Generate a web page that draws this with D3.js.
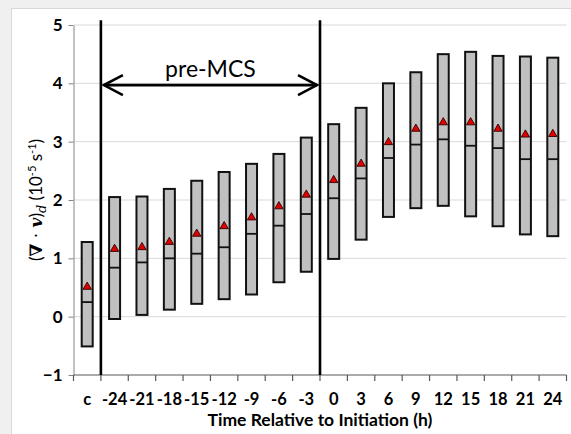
<!DOCTYPE html>
<html>
<head>
<meta charset="utf-8">
<script src="https://cdn.jsdelivr.net/npm/d3@7"></script>
<style>
  body { margin: 0; background: #fff; }
  svg { display: block; font-family: Lato, "Open Sans", sans-serif; }
</style>
</head>
<body>
<div id="chart"></div>
<script>
// Categories on the x axis (hours relative to initiation, "c" = climatology)
const categories = ["c", "-24", "-21", "-18", "-15", "-12", "-9", "-6", "-3",
    "0", "3", "6", "9", "12", "15", "18", "21", "24"];

// Box bottoms, tops, medians and means (10^-5 s^-1)
const lower = [-0.51, -0.04, 0.03, 0.12, 0.22, 0.30, 0.38, 0.59, 0.77,
    0.99, 1.32, 1.71, 1.86, 1.90, 1.72, 1.55, 1.41, 1.38];
const upper = [1.28, 2.05, 2.06, 2.19, 2.33, 2.48, 2.62, 2.79, 3.07,
    3.30, 3.58, 4.00, 4.19, 4.50, 4.54, 4.47, 4.46, 4.44];
const median = [0.25, 0.84, 0.93, 1.00, 1.08, 1.19, 1.42, 1.56, 1.76,
    2.03, 2.37, 2.72, 2.95, 3.04, 2.93, 2.89, 2.70, 2.70];
const mean = [0.51, 1.16, 1.19, 1.28, 1.42, 1.55, 1.70, 1.89, 2.09,
    2.34, 2.62, 2.99, 3.22, 3.33, 3.33, 3.22, 3.12, 3.13];

// Y ticks
const yTicks = [-1, 0, 1, 2, 3, 4, 5];

// pre-MCS period marker
const preStart = "-24", preEnd = "-3", preLevel = 3.97;

const width = 571,
    height = 434,
    margin = ({top: 25, right: 4.5, bottom: 59, left: 73.5});

const svg = d3.select("#chart")
    .append("svg")
    .attr("width", width)
    .attr("height", height);

// Page frame (gray strips top/left)
svg.append("rect").attr("x", 0).attr("y", 0).attr("width", width).attr("height", 8).attr("fill", "#f0f0f0");
svg.append("rect").attr("x", 0).attr("y", 0).attr("width", 11).attr("height", height).attr("fill", "#f0f0f0");
svg.append("line").attr("x1", 11.5).attr("x2", 11.5).attr("y1", 8).attr("y2", height)
    .attr("stroke", "#d8d8d8");
svg.append("line").attr("x1", 11).attr("x2", width).attr("y1", 8.5).attr("y2", 8.5)
    .attr("stroke", "#d8d8d8");

// Scales
const x = d3.scaleBand()
    .domain(categories)
    .range([margin.left, width - margin.right])
    .paddingInner(0)
    .paddingOuter(0);

const y = d3.scaleLinear()
    .domain([-1, 5])
    .range([height - margin.bottom, margin.top]);

// Gridlines
svg.append("g")
    .selectAll("line")
    .data(yTicks.filter(d => d > -1))
    .join("line")
    .attr("x1", margin.left)
    .attr("x2", width - margin.right)
    .attr("y1", d => y(d))
    .attr("y2", d => y(d))
    .attr("stroke", "#d9d9d9")
    .attr("stroke-width", 1);

// Y axis
const yAxis = svg.append("g")
    .attr("transform", `translate(${margin.left},0)`)
    .call(d3.axisLeft(y).tickValues(yTicks).tickSize(5).tickSizeOuter(0).tickFormat(d3.format("d")));
yAxis.select(".domain").attr("stroke", "#868686");
yAxis.selectAll(".tick line").attr("stroke", "#868686");
yAxis.selectAll("text")
    .attr("x", -11)
    .attr("fill", "#000")
    .style("font-size", "17px")
    .style("font-weight", "700")
    .style("font-family", "Lato, sans-serif");

// X axis: ticks between categories
const xAxis = svg.append("g")
    .attr("transform", `translate(0,${y(-1)})`);
xAxis.append("line")
    .attr("x1", margin.left)
    .attr("x2", width - margin.right)
    .attr("stroke", "#595959")
    .attr("stroke-width", 1.2);
const bounds = categories.map(c => x(c)).concat([x(categories[categories.length - 1]) + x.bandwidth()]);
xAxis.selectAll(".xt")
    .data(bounds)
    .join("line")
    .attr("class", "xt")
    .attr("x1", d => d)
    .attr("x2", d => d)
    .attr("y1", 0)
    .attr("y2", 6)
    .attr("stroke", "#595959")
    .attr("stroke-width", 1.2);
xAxis.selectAll(".xl")
    .data(categories)
    .join("text")
    .attr("class", "xl")
    .attr("x", d => x(d) + x.bandwidth() / 2)
    .attr("y", 30)
    .attr("text-anchor", "middle")
    .style("font-size", "16.5px")
    .style("font-weight", "700")
    .text(d => d);

// Boxes
const bw = 11;
const boxes = svg.append("g")
    .selectAll("g")
    .data(categories)
    .join("g");

boxes.append("rect")
    .attr("x", d => x(d) + x.bandwidth() / 2 - bw / 2)
    .attr("y", (d, i) => y(upper[i]))
    .attr("width", bw)
    .attr("height", (d, i) => y(lower[i]) - y(upper[i]))
    .attr("fill", "#c0c0c0")
    .attr("stroke", "#111")
    .attr("stroke-width", 2);

boxes.append("line")
    .attr("x1", d => x(d) + x.bandwidth() / 2 - bw / 2)
    .attr("x2", d => x(d) + x.bandwidth() / 2 + bw / 2)
    .attr("y1", (d, i) => y(median[i]))
    .attr("y2", (d, i) => y(median[i]))
    .attr("stroke", "#111")
    .attr("stroke-width", 1.8);

boxes.append("path")
    .attr("d", d3.symbol().type(d3.symbolTriangle).size(30))
    .attr("transform", (d, i) => `translate(${x(d) + x.bandwidth() / 2},${y(mean[i])})`)
    .attr("fill", "#e00000")
    .attr("stroke", "#300000")
    .attr("stroke-width", 0.9);

// pre-MCS bounding lines
const xa = x(preStart), xb = x(preEnd) + x.bandwidth();
svg.append("g")
    .selectAll("line")
    .data([xa, xb])
    .join("line")
    .attr("x1", d => d)
    .attr("x2", d => d)
    .attr("y1", y(5.08))
    .attr("y2", y(-1))
    .attr("stroke", "#000")
    .attr("stroke-width", 2.6);

// Double-headed arrow
const ay = y(preLevel);
svg.append("line")
    .attr("x1", xa + 3)
    .attr("x2", xb - 3)
    .attr("y1", ay)
    .attr("y2", ay)
    .attr("stroke", "#000")
    .attr("stroke-width", 2.6);
svg.append("path")
    .attr("d", `M${xa + 22},${ay - 10} L${xa + 3},${ay} L${xa + 22},${ay + 10}
                M${xb - 22},${ay - 10} L${xb - 3},${ay} L${xb - 22},${ay + 10}`)
    .attr("fill", "none")
    .attr("stroke", "#000")
    .attr("stroke-width", 2.6);

svg.append("text")
    .attr("x", (xa + xb) / 2)
    .attr("y", ay - 8)
    .attr("text-anchor", "middle")
    .style("font-size", "23px")
    .text("pre-MCS");

// X axis title
svg.append("text")
    .attr("x", (margin.left + width - margin.right) / 2)
    .attr("y", 426)
    .attr("text-anchor", "middle")
    .style("font-size", "17.5px")
    .style("font-weight", "700")
    .text("Time Relative to Initiation (h)");

// Y axis title
const yl = svg.append("text")
    .attr("transform", `translate(42,200) rotate(-90)`)
    .attr("text-anchor", "middle")
    .style("font-size", "17px");
yl.append("tspan").text("(");
yl.append("tspan").style("font-weight", "700").style("font-style", "italic")
    .style("font-family", "'DejaVu Serif', serif").text("\u2207");
yl.append("tspan").style("font-family", "'DejaVu Serif', serif").text(" \u00B7 ");
yl.append("tspan").style("font-weight", "700").style("font-style", "italic")
    .style("font-family", "'DejaVu Serif', serif").text("v");
yl.append("tspan").text(")");
yl.append("tspan").style("font-style", "italic").style("font-size", "13px")
    .style("font-family", "'DejaVu Serif', serif").attr("dy", 4).text("d");
yl.append("tspan").attr("dy", -4).text(" (10");
yl.append("tspan").style("font-size", "11px").attr("dy", -6).text("-5");
yl.append("tspan").attr("dy", 6).text(" s");
yl.append("tspan").style("font-size", "11px").attr("dy", -6).text("-1");
yl.append("tspan").attr("dy", 6).text(")");
</script>
</body>
</html>
